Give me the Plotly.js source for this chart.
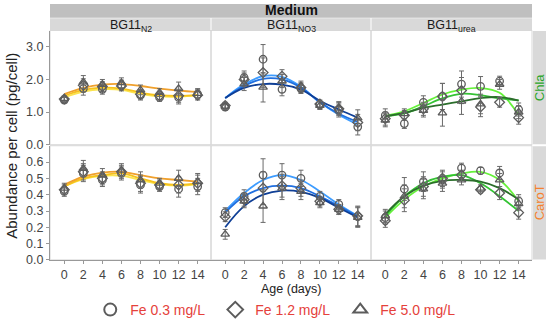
<!DOCTYPE html>
<html><head><meta charset="utf-8">
<script src="https://cdn.plot.ly/plotly-3.0.1.min.js"></script>
<style>html,body{margin:0;padding:0;background:#fff}#chart{width:550px;height:326px}</style>
</head><body><div id="chart"></div>
<script>
// ---------- data ----------
const days = [0, 2, 4, 6, 8, 10, 12, 14];
const media = ["BG11<sub>N2</sub>", "BG11<sub>NO3</sub>", "BG11<sub>urea</sub>"];
const pigments = ["Chla", "CaroT"];
const feLabels = ["Fe 0.3 mg/L", "Fe 1.2 mg/L", "Fe 5.0 mg/L"];

// Chla — BG11 N2
const chlaN2_03 = [1.37, 1.72, 1.70, 1.83, 1.52, 1.45, 1.45, 1.55];
const chlaN2_12 = [1.40, 1.82, 1.78, 1.80, 1.55, 1.50, 1.50, 1.52];
const chlaN2_50 = [1.42, 1.92, 1.85, 1.90, 1.68, 1.60, 1.72, 1.57];
const chlaN2_err = [0.08, 0.20, 0.15, 0.15, 0.15, 0.12, 0.20, 0.15];
const chlaN2_fit03 = [1.45, 1.63, 1.70, 1.68, 1.56, 1.48, 1.47, 1.52];
const chlaN2_fit12 = [1.50, 1.68, 1.75, 1.72, 1.60, 1.52, 1.50, 1.53];
const chlaN2_fit50 = [1.55, 1.74, 1.84, 1.86, 1.80, 1.72, 1.66, 1.62];
// Chla — BG11 NO3
const chlaNO3_03 = [1.15, 2.06, 2.62, 1.70, 1.72, 1.22, 1.05, 0.55];
const chlaNO3_12 = [1.20, 2.00, 2.21, 2.10, 1.75, 1.25, 1.10, 0.68];
const chlaNO3_50 = [1.18, 1.86, 1.76, 1.95, 1.80, 1.20, 1.12, 0.82];
const chlaNO3_err = [0.10, 0.20, 0.45, 0.20, 0.15, 0.12, 0.20, 0.25];
const chlaNO3_fit03 = [1.43, 1.85, 2.10, 2.08, 1.78, 1.30, 0.92, 0.62];
const chlaNO3_fit12 = [1.43, 1.80, 2.02, 2.00, 1.75, 1.30, 0.95, 0.70];
const chlaNO3_fit50 = [1.43, 1.74, 1.86, 1.84, 1.69, 1.35, 1.08, 0.83];
// Chla — BG11 urea
const chlaUrea_03 = [0.90, 0.65, 1.30, 1.48, 1.86, 1.79, 1.95, 1.08];
const chlaUrea_12 = [0.80, 0.90, 1.10, 1.48, 1.66, 1.16, 1.30, 0.83];
const chlaUrea_50 = [0.75, 0.95, 1.05, 0.97, 1.33, 1.25, 1.85, 1.00];
const chlaUrea_err = [0.20, 0.15, 0.20, 0.40, 0.40, 0.30, 0.15, 0.20];
const chlaUrea_fit03 = [0.88, 1.03, 1.28, 1.54, 1.69, 1.74, 1.59, 0.91];
const chlaUrea_fit12 = [0.88, 0.96, 1.18, 1.42, 1.56, 1.52, 1.42, 1.36];
const chlaUrea_fit50 = [0.88, 0.98, 1.13, 1.23, 1.33, 1.43, 1.46, 1.35];
// CaroT — BG11 N2
const carN2_03 = [0.42, 0.53, 0.49, 0.53, 0.46, 0.45, 0.435, 0.45];
const carN2_12 = [0.43, 0.54, 0.50, 0.54, 0.47, 0.46, 0.46, 0.47];
const carN2_50 = [0.44, 0.56, 0.52, 0.55, 0.49, 0.47, 0.50, 0.48];
const carN2_err = [0.03, 0.05, 0.04, 0.04, 0.05, 0.03, 0.05, 0.05];
const carN2_fit03 = [0.45, 0.495, 0.515, 0.515, 0.49, 0.465, 0.455, 0.465];
const carN2_fit12 = [0.45, 0.50, 0.52, 0.53, 0.50, 0.47, 0.46, 0.47];
const carN2_fit50 = [0.46, 0.51, 0.535, 0.54, 0.52, 0.50, 0.49, 0.48];
// CaroT — BG11 NO3
const carNO3_03 = [0.29, 0.39, 0.52, 0.52, 0.50, 0.39, 0.34, 0.265];
const carNO3_12 = [0.265, 0.37, 0.44, 0.455, 0.44, 0.36, 0.31, 0.27];
const carNO3_50 = [0.157, 0.36, 0.33, 0.44, 0.42, 0.35, 0.31, 0.26];
const carNO3_err = [0.03, 0.04, 0.10, 0.07, 0.05, 0.03, 0.03, 0.06];
const carNO3_fit03 = [0.30, 0.41, 0.49, 0.52, 0.49, 0.42, 0.34, 0.27];
const carNO3_fit12 = [0.29, 0.39, 0.44, 0.455, 0.44, 0.39, 0.33, 0.265];
const carNO3_fit50 = [0.20, 0.33, 0.40, 0.425, 0.417, 0.38, 0.32, 0.26];
// CaroT — BG11 urea
const carUrea_03 = [0.26, 0.435, 0.48, 0.49, 0.563, 0.547, 0.533, 0.36];
const carUrea_12 = [0.24, 0.366, 0.45, 0.50, 0.52, 0.43, 0.41, 0.29];
const carUrea_50 = [0.27, 0.39, 0.435, 0.47, 0.49, 0.44, 0.49, 0.345];
const carUrea_err = [0.04, 0.07, 0.06, 0.05, 0.03, 0.02, 0.04, 0.04];
const carUrea_fit03 = [0.26, 0.37, 0.45, 0.50, 0.53, 0.54, 0.49, 0.36];
const carUrea_fit12 = [0.27, 0.39, 0.47, 0.51, 0.52, 0.47, 0.39, 0.30];
const carUrea_fit50 = [0.28, 0.39, 0.455, 0.485, 0.49, 0.48, 0.44, 0.37];

// ---------- styling ----------
const W = 550, H = 326;
const colPx = [[50, 211], [211, 371], [371, 532]];
const rowPx = [[31, 147], [148, 264]];
const yRanges = [[0, 3.5], [0, 0.7]];
const lineColors = [
  ["#fbe44e", "#f6c21c", "#f0a02c"],
  ["#3d9cff", "#1f6fe0", "#0f3f96"],
  ["#66f23a", "#34c334", "#2b6e2b"]
];
const symbols = ["circle-open", "diamond-open", "triangle-up-open"];
const markerColor = "#5c5c5c";

const panels = [
  [[chlaN2_03, chlaN2_12, chlaN2_50, chlaN2_err, chlaN2_fit03, chlaN2_fit12, chlaN2_fit50],
   [chlaNO3_03, chlaNO3_12, chlaNO3_50, chlaNO3_err, chlaNO3_fit03, chlaNO3_fit12, chlaNO3_fit50],
   [chlaUrea_03, chlaUrea_12, chlaUrea_50, chlaUrea_err, chlaUrea_fit03, chlaUrea_fit12, chlaUrea_fit50]],
  [[carN2_03, carN2_12, carN2_50, carN2_err, carN2_fit03, carN2_fit12, carN2_fit50],
   [carNO3_03, carNO3_12, carNO3_50, carNO3_err, carNO3_fit03, carNO3_fit12, carNO3_fit50],
   [carUrea_03, carUrea_12, carUrea_50, carUrea_err, carUrea_fit03, carUrea_fit12, carUrea_fit50]]
];

const traces = [];
const layout = {
  width: W, height: H, margin: {l: 0, r: 0, t: 0, b: 0},
  paper_bgcolor: "#fff", plot_bgcolor: "#fff",
  font: {family: "Liberation Sans, Arial, sans-serif", color: "#333"},
  showlegend: true,
  legend: {orientation: "h", x: 0.505, xanchor: "center", y: 1 - 315 / H, yanchor: "middle",
           font: {size: 14, color: "#e5413b"}, entrywidth: 80, entrywidthmode: "pixels",
           itemsizing: "constant", bgcolor: "rgba(0,0,0,0)"},
  shapes: [], annotations: []
};
const fx = px => px / W;
const fy = py => 1 - py / H;

for (let r = 0; r < 2; r++) {
  for (let c = 0; c < 3; c++) {
    const idx = r * 3 + c + 1;
    const xa = idx === 1 ? "x" : "x" + idx;
    const ya = idx === 1 ? "y" : "y" + idx;
    const xk = idx === 1 ? "xaxis" : "xaxis" + idx;
    const yk = idx === 1 ? "yaxis" : "yaxis" + idx;
    const d = panels[r][c];
    layout[xk] = {
      domain: [fx(colPx[c][0]), fx(colPx[c][1])], anchor: ya, range: [-1.5, 15.4],
      tickvals: days, showgrid: false, zeroline: false,
      showticklabels: r === 1, ticks: r === 1 ? "outside" : "", ticklen: 3, tickcolor: "#999",
      tickfont: {size: 12.5, color: "#444"}, showline: r === 1, linecolor: "#999", linewidth: 1
    };
    layout[yk] = {
      domain: [fy(rowPx[r][1]), fy(rowPx[r][0])], anchor: xa, range: yRanges[r],
      tickvals: r === 0 ? [0, 1, 2, 3] : [0, 0.1, 0.2, 0.3, 0.4, 0.5, 0.6], tickformat: ".1f",
      showgrid: false, zeroline: false,
      showticklabels: c === 0, ticks: c === 0 ? "outside" : "", ticklen: 3, tickcolor: "#999",
      tickfont: {size: 12.5, color: "#444"}, showline: c === 0, linecolor: "#999", linewidth: 1
    };
    // panel frame
    layout.shapes.push({type: "rect", xref: "paper", yref: "paper",
      x0: fx(colPx[c][0]), x1: fx(colPx[c][1]), y0: fy(rowPx[r][1]), y1: fy(rowPx[r][0]),
      line: {color: "#d6d6d6", width: 1}, fillcolor: "rgba(0,0,0,0)", layer: "below"});
    // fit lines
    for (let s = 0; s < 3; s++) {
      traces.push({x: days, y: d[4 + s], xaxis: xa, yaxis: ya, mode: "lines",
        line: {color: lineColors[c][s], width: 1.8, shape: "spline", smoothing: 1.1},
        showlegend: false, hoverinfo: "skip"});
    }
    // points
    for (let s = 0; s < 3; s++) {
      traces.push({x: days, y: d[s], xaxis: xa, yaxis: ya, mode: "markers",
        marker: {symbol: symbols[s], size: 7.5, color: markerColor, line: {width: 1.3, color: markerColor}},
        error_y: {type: "data", array: d[3], visible: true, color: "#6a6a6a", thickness: 1, width: 2.5},
        showlegend: false});
    }
  }
}
// legend entries
for (let s = 0; s < 3; s++) {
  traces.push({x: [null], y: [null], mode: "markers", name: feLabels[s],
    marker: {symbol: symbols[s], size: 8.5, color: markerColor, line: {width: 1.5, color: markerColor}},
    showlegend: true});
}

// strips
layout.shapes.push({type: "rect", xref: "paper", yref: "paper", x0: fx(50), x1: fx(532),
  y0: fy(18), y1: fy(4), fillcolor: "#bfbfbf", line: {width: 0}, layer: "below"});
for (let c = 0; c < 3; c++) {
  layout.shapes.push({type: "rect", xref: "paper", yref: "paper",
    x0: fx(colPx[c][0] + (c ? 0.5 : 0)), x1: fx(colPx[c][1] - (c < 2 ? 0.5 : 0)),
    y0: fy(31), y1: fy(18.5), fillcolor: "#d9d9d9", line: {width: 0}, layer: "below"});
  layout.annotations.push({text: media[c], xref: "paper", yref: "paper",
    x: fx((colPx[c][0] + colPx[c][1]) / 2), y: fy(26), showarrow: false,
    xanchor: "center", yanchor: "middle", font: {size: 12.5, color: "#1a1a1a"}});
}
layout.annotations.push({text: "<b>Medium</b>", xref: "paper", yref: "paper",
  x: fx(291), y: fy(10.5), showarrow: false, xanchor: "center", yanchor: "middle",
  font: {size: 14, color: "#111"}});
const pigColors = ["#2aa52a", "#f5822e"];
for (let r = 0; r < 2; r++) {
  layout.shapes.push({type: "rect", xref: "paper", yref: "paper", x0: fx(533), x1: fx(546),
    y0: fy(rowPx[r][1] - 0.5), y1: fy(rowPx[r][0] + 0.5), fillcolor: "#d9d9d9", line: {width: 0}, layer: "below"});
  layout.annotations.push({text: pigments[r], xref: "paper", yref: "paper",
    x: fx(539.5), y: fy((rowPx[r][0] + rowPx[r][1]) / 2), showarrow: false, textangle: -90,
    xanchor: "center", yanchor: "middle", font: {size: 13, color: pigColors[r]}});
}
// axis titles
layout.annotations.push({text: "Abundance per cell (pg/cell)", xref: "paper", yref: "paper",
  x: fx(12), y: fy(148), showarrow: false, textangle: -90, xanchor: "center", yanchor: "middle",
  font: {size: 15, color: "#222"}});
layout.annotations.push({text: "Age (days)", xref: "paper", yref: "paper",
  x: fx(291), y: fy(294), showarrow: false, xanchor: "center", yanchor: "middle",
  font: {size: 12.5, color: "#222"}});

Plotly.newPlot("chart", traces, layout, {displayModeBar: false, staticPlot: true});
</script></body></html>
